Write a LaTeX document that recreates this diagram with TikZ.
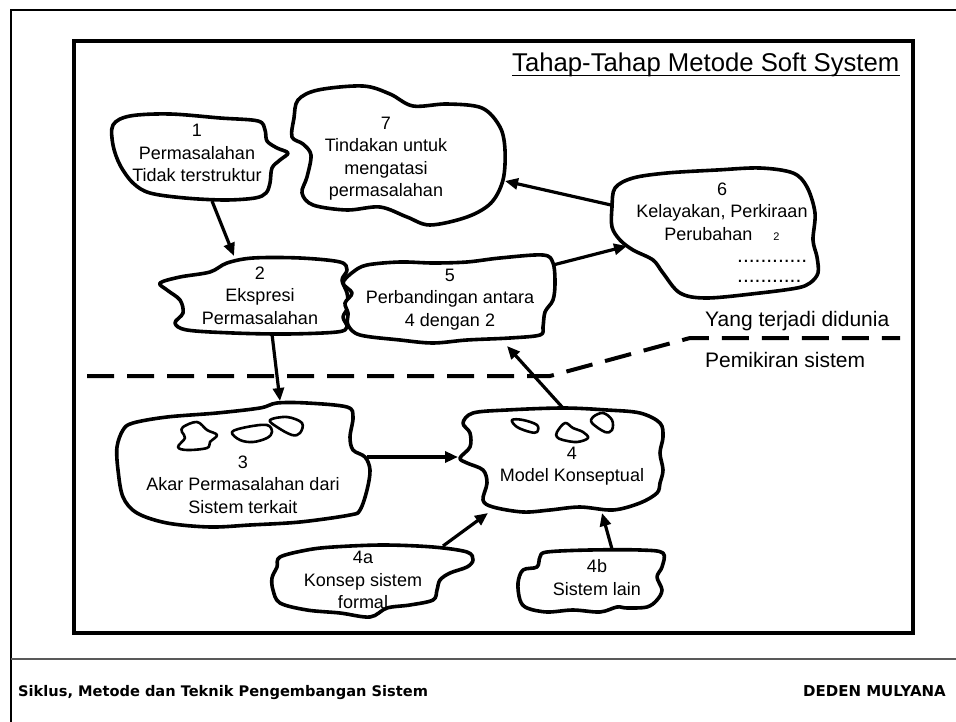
\documentclass[tikz,border=0pt]{standalone}
\usepackage{fontspec}
\setmainfont{Liberation Sans}
\newfontfamily\footfont{DejaVu Sans}
\usetikzlibrary{arrows.meta}
\begin{document}
\begin{tikzpicture}[x=1pt,y=-1pt,
  blob/.style={line width=3.6pt, line join=round, fill=white},
  smallblob/.style={line width=2.6pt, line join=round},
  lbl/.style={align=center, inner sep=0pt, font=\fontsize{18}{22.5}\selectfont},
  side/.style={anchor=base west, inner sep=0pt, font=\fontsize{21}{24}\selectfont},
  arr/.style={line width=3.2pt, -{Triangle[length=13pt,width=11pt]}},
  sep/.style={line width=4pt, dash pattern=on 27pt off 13pt},
  foot/.style={inner sep=0pt, font=\footfont\bfseries\fontsize{14.6}{18}\selectfont},
]
\useasboundingbox (0,0) rectangle (956,722);
% frames
\draw[line width=2pt] (10.5,722) -- (10.5,10.5) -- (956,10.5);
\draw[line width=1.5pt, black!65] (10.5,659) -- (956,659);
\draw[line width=4pt] (73.5,41.5) rectangle (913,633);
% title
\node[anchor=base west, inner sep=0pt, font=\fontsize{25.7}{30}\selectfont] (title) at (512,72) {Tahap-Tahap Metode Soft System};
\draw[line width=1.8pt] ([yshift=-3.5pt]title.base west) -- ([yshift=-3.5pt]title.base east);
% dashed boundary
\draw[sep] (87,376) -- (550,376) -- (690,338) -- (900,338);
\node[side] (world) at (705,326) {Yang terjadi didunia};
\node[side] (think) at (705,367) {Pemikiran sistem};
% blobs
\draw[blob] plot[smooth cycle, tension=0.55] coordinates {(113,125) (130,116) (170,114) (220,118) (258,121) (265,130) (267,141) (277,148) (288,153) (280,160) (272,168) (270,183) (266,193) (255,198) (225,200) (185,198) (150,193) (133,183) (120,165) (113,145)};
\draw[blob] plot[smooth cycle, tension=0.55] coordinates {(298,100) (318,90) (363,86) (390,94) (413,106) (447,104) (482,108) (500,127) (505,150) (503,180) (491,203) (467,217) (430,225) (407,217) (380,207) (347,210) (313,205) (302,193) (307,177) (311,155) (303,144) (292,137) (294,118)};
\draw[blob] plot[smooth cycle, tension=0.55] coordinates {(160,283) (180,277) (210,272) (227,263) (253,258) (300,258) (340,262) (347,270) (342,280) (347,293) (348,307) (343,317) (347,327) (337,332) (287,334) (233,333) (187,330) (175,323) (183,313) (180,300) (167,290)};
\draw[blob] plot[smooth cycle, tension=0.55] coordinates {(353,272) (367,265) (400,262) (433,263) (467,262) (500,258) (543,255) (553,263) (555,283) (553,300) (545,312) (543,327) (540,335) (510,338) (467,340) (433,343) (400,340) (360,335) (348,325) (348,313) (345,303) (352,293) (343,283)};
\draw[blob] plot[smooth cycle, tension=0.55] coordinates {(615,188) (633,178) (667,173) (717,170) (760,168) (793,173) (807,187) (815,213) (813,240) (817,257) (818,273) (810,283) (797,288) (760,293) (707,298) (680,293) (663,273) (653,260) (633,250) (620,240) (612,227) (612,207)};
\draw[blob] plot[smooth cycle, tension=0.55] coordinates {(123,430) (133,423) (167,417) (217,413) (260,408) (277,403) (307,403) (347,407) (353,417) (350,437) (353,450) (365,457) (370,470) (367,490) (360,510) (350,515) (300,522) (250,525) (210,527) (167,523) (137,513) (123,497) (118,470) (117,447)};
\draw[blob] plot[smooth cycle, tension=0.55] coordinates {(463,423) (473,413) (507,410) (563,408) (607,410) (640,413) (660,423) (663,437) (660,453) (663,470) (660,483) (657,493) (640,503) (613,510) (580,507) (550,510) (523,512) (493,507) (483,500) (487,483) (483,470) (467,463) (460,458) (470,447) (470,433)};
\draw[blob] plot[smooth cycle, tension=0.55] coordinates {(280,557) (307,550) (333,547) (383,545) (433,547) (467,552) (473,560) (467,567) (450,573) (440,580) (437,590) (433,600) (410,605) (387,608) (370,617) (340,613) (307,610) (280,603) (273,590) (272,578) (277,567)};
\draw[blob] plot[smooth cycle, tension=0.55] coordinates {(540,557) (547,552) (590,550) (640,550) (663,553) (662,567) (657,577) (662,590) (657,600) (647,607) (627,608) (617,607) (600,612) (573,610) (547,612) (527,608) (520,600) (518,583) (523,570) (537,567)};
% small blobs in 3
\draw[smallblob] plot[smooth cycle, tension=0.6] coordinates {(183,427) (197,422) (207,430) (217,435) (210,442) (207,448) (187,450) (178,447) (185,438) (182,432)};
\draw[smallblob] plot[smooth cycle, tension=0.6] coordinates {(232,432) (247,427) (267,425) (272,432) (267,438) (253,442) (240,440)};
\draw[smallblob] plot[smooth cycle, tension=0.6] coordinates {(270,420) (287,417) (302,423) (300,433) (292,435) (277,427)};
% small blobs in 4
\draw[smallblob] plot[smooth cycle, tension=0.6] coordinates {(512,420) (523,420) (537,425) (537,432) (530,432) (517,427)};
\draw[smallblob] plot[smooth cycle, tension=0.6] coordinates {(557,432) (565,423) (573,428) (583,432) (588,438) (577,442) (563,440) (557,437)};
\draw[smallblob] plot[smooth cycle, tension=0.6] coordinates {(593,417) (603,413) (612,420) (612,430) (605,432) (592,423)};
% labels
\node[lbl] (n1) at (197,153) {1\\Permasalahan\\Tidak terstruktur};
\node[lbl] (n7) at (386,158.5) {7\\Tindakan untuk\\mengatasi\\permasalahan};
\node[lbl] (n2) at (260,295.5) {2\\Ekspresi\\Permasalahan};
\node[lbl] (n5) at (450,299.5) {5\\Perbandingan antara\\4 dengan 2};
\node[lbl] (n6) at (722,211.5) {6\\Kelayakan, Perkiraan\\Perubahan\hspace{21pt}{\fontsize{11}{11}\selectfont 2}};
\node[side] (d1) at (737,262) {............};
\node[side] (d2) at (737,283) {...........};
\node[lbl] (n3) at (243,484.5) {3\\Akar Permasalahan dari\\Sistem terkait};
\node[lbl] (n4) at (572,466) {4\\Model Konseptual};
\node[lbl] (n4a) at (363,580) {4a\\Konsep sistem\\formal};
\node[lbl] (n4b) at (597,577.5) {4b\\Sistem lain};
% connector end points on the blob outlines
\coordinate (n1-s) at (212,201);
\coordinate (n2-n) at (234,256);
\coordinate (n2-s) at (272,334);
\coordinate (n3-n) at (280,401);
\coordinate (n3-e) at (367,457);
\coordinate (n4-w) at (458,457);
\coordinate (n4-n) at (563,408);
\coordinate (n5-s) at (507,346);
\coordinate (n5-e) at (553,265);
\coordinate (n6-w) at (627,246);
\coordinate (n6-nw) at (611,205);
\coordinate (n7-e) at (505,181);
\coordinate (n4a-n) at (443,546);
\coordinate (n4-sw) at (488,513);
\coordinate (n4b-n) at (612,549);
\coordinate (n4-s) at (602,513);
\draw[arr] (n1-s) -- (n2-n);
\draw[arr] (n2-s) -- (n3-n);
\draw[arr] (n3-e) -- (n4-w);
\draw[arr] (n4-n) -- (n5-s);
\draw[arr] (n5-e) -- (n6-w);
\draw[arr] (n6-nw) -- (n7-e);
\draw[arr] (n4a-n) -- (n4-sw);
\draw[arr] (n4b-n) -- (n4-s);
% footer
\node[foot, anchor=base west] (fl) at (18,696) {Siklus, Metode dan Teknik Pengembangan Sistem};
\node[foot, anchor=base east, font=\footfont\bfseries\fontsize{15}{18}\selectfont] (fr) at (946,696) {DEDEN MULYANA};
\end{tikzpicture}
\end{document}
